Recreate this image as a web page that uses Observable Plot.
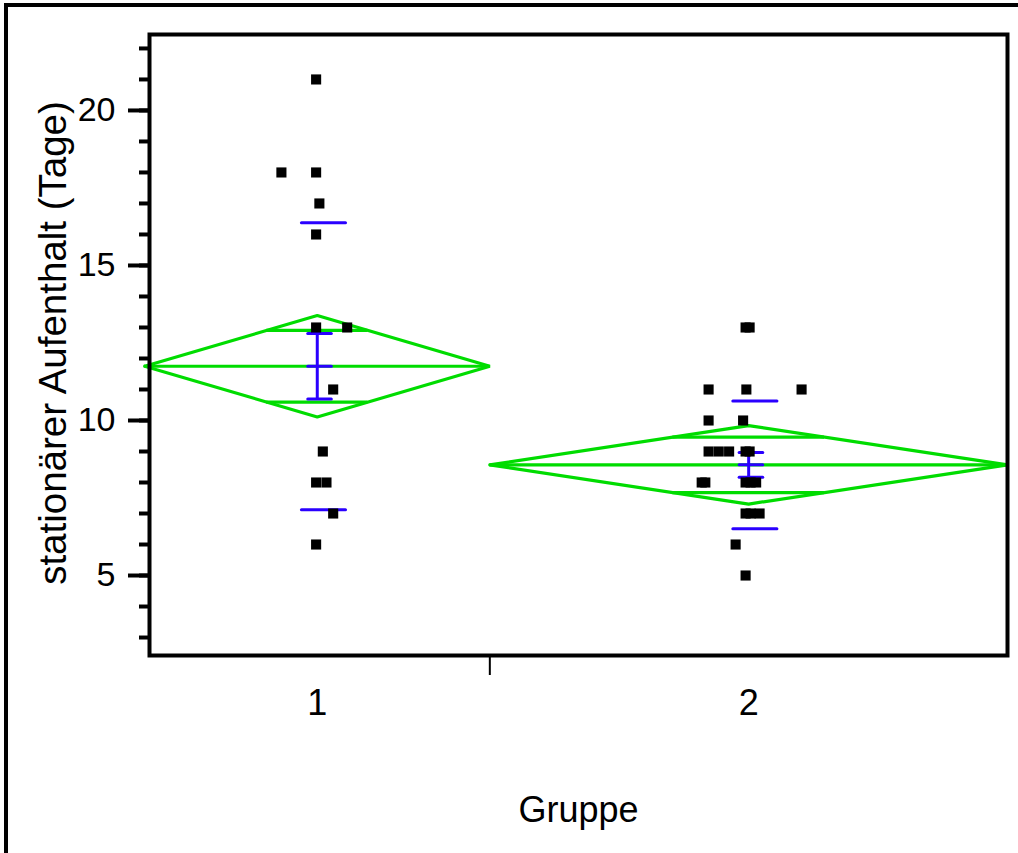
<!DOCTYPE html>
<html><head><meta charset="utf-8">
<script src="https://cdn.jsdelivr.net/npm/d3@7"></script>
<script src="https://cdn.jsdelivr.net/npm/@observablehq/plot@0.6"></script>
<style>
body{margin:0;background:#fff;}
#wrap{position:relative;width:1018px;height:853px;overflow:hidden;background:#fff;}
#border{position:absolute;left:4px;top:3px;width:2000px;height:2000px;border-left:4px solid #000;border-top:4px solid #000;}
#chart{position:absolute;left:0;top:0;}
</style></head><body>
<div id="wrap"><div id="border"></div><div id="chart"></div></div>
<script>
// ---- data ----
const groups = ["1", "2"];
const groupSizes = [18, 27];
const means = [11.75, 8.57];
const ci95 = [1.635, 1.265];
const stdErr = [1.055, 0.40];
const stdDev = [4.625, 2.06];
const yTicks = [5, 10, 15, 20];
const yMinorTicks = d3.range(3, 23);

// observations: group index, value, horizontal jitter (x units)
const pointGroup = [0,0,0,0,0,0,0,0,0,0,0,0,0,
  1,1,1,1,1,1,1,1,1,1,1,1,1,1,1,1,1,1,1,1,1,1];
const pointValue = [21,18,18,17,16,13,13,11,9,8,8,7,6,
  13,13,11,11,11,10,10,9,9,9,9,9,8,8,8,8,8,7,7,7,6,5];
const pointJitter = [-0.06,-1.87,-0.06,0.11,-0.06,-0.06,1.56,0.83,0.29,-0.06,0.48,0.83,-0.06,
  -0.16,0.05,-2.09,-0.12,2.76,-2.09,-0.29,-2.09,-1.56,-1.02,-0.16,0.05,-2.45,-2.26,-0.16,0.10,0.39,-0.16,0.10,0.57,-0.68,-0.16];

// ---- derived tables ----
const starts = groupSizes.map((n, i) => d3.sum(groupSizes.slice(0, i)));
const ends = groupSizes.map((n, i) => starts[i] + n);
const centers = groupSizes.map((n, i) => starts[i] + n / 2);
const total = d3.sum(groupSizes);

const summary = groups.map((g, i) => ({
  g, i, start: starts[i], end: ends[i], c: centers[i], hw: groupSizes[i] / 2,
  mean: means[i], ci: ci95[i], se: stdErr[i], sd: stdDev[i]
}));

const diamond = summary.flatMap(s => [
  {g: s.g, x: s.start, y: s.mean},
  {g: s.g, x: s.c, y: s.mean + s.ci},
  {g: s.g, x: s.end, y: s.mean},
  {g: s.g, x: s.c, y: s.mean - s.ci},
  {g: s.g, x: s.start, y: s.mean}
]);
const k = 1 - Math.SQRT1_2;
const overlap = summary.flatMap(s => [+1, -1].map(sign => ({
  y: s.mean + sign * s.ci * Math.SQRT1_2, x1: s.c - s.hw * k, x2: s.c + s.hw * k
})));
const sdLines = summary.flatMap(s => [+1, -1].map(sign => ({y: s.mean + sign * s.sd, c: s.c})));
const seCaps = summary.flatMap(s => [-1, 0, 1].map(sign => ({y: s.mean + sign * s.se, c: s.c})));

const points = pointValue.map((v, i) => ({x: centers[pointGroup[i]] + pointJitter[i], y: v}));

const GREEN = "#00dc00", BLUE = "#2a00ff";
const FONT = '"Liberation Sans", Arial, Helvetica, sans-serif';

const chart = Plot.plot({
  width: 1018, height: 853,
  marginLeft: 149, marginRight: 11, marginTop: 34, marginBottom: 198,
  x: {domain: [0.25, total]},
  y: {domain: [2.42, 22.45]},
  style: {fontFamily: FONT, background: "transparent", color: "#000", overflow: "visible"},
  marks: [
    // green means diamonds
    Plot.line(diamond, {x: "x", y: "y", z: "g", stroke: GREEN, strokeWidth: 3.2, strokeLinejoin: "miter"}),
    Plot.ruleY(summary, {y: "mean", x1: "start", x2: "end", stroke: GREEN, strokeWidth: 3.2}),
    Plot.ruleY(overlap, {y: "y", x1: "x1", x2: "x2", stroke: GREEN, strokeWidth: 3.2}),
    // blue std dev lines and std error bars
    Plot.ruleY(sdLines, {y: "y", x1: d => d.c - 0.8, x2: d => d.c + 1.5, stroke: BLUE, strokeWidth: 3, strokeLinecap: "round"}),
    Plot.ruleX(summary, {x: "c", y1: d => d.mean - d.se, y2: d => d.mean + d.se, stroke: BLUE, strokeWidth: 3}),
    Plot.ruleY(seCaps, {y: "y", x1: d => d.c - 0.47, x2: d => d.c + 0.76, stroke: BLUE, strokeWidth: 3, strokeLinecap: "round"}),
    // observations
    Plot.dot(points, {x: "x", y: "y", symbol: "square", r: 5.7, fill: "#000", stroke: null}),
    // axes
    Plot.axisY(yMinorTicks, {tickSize: 10, tickFormat: () => "", strokeWidth: 4, label: null}),
    Plot.axisY(yTicks, {tickSize: 21, tickPadding: 13, fontSize: 34, strokeWidth: 4, label: null}),
    Plot.axisX([ends[0]], {tickSize: 20, tickFormat: () => "", strokeWidth: 2, label: null}),
    Plot.axisX(centers, {tickSize: 0, tickPadding: 34, fontSize: 36, label: null,
      tickFormat: d => groups[centers.indexOf(d)]}),
    Plot.frame({stroke: "#000", strokeWidth: 4}),
    // axis titles
    Plot.text(["Gruppe"], {frameAnchor: "bottom", dy: 155, fontSize: 36, textAnchor: "middle", lineAnchor: "middle"}),
    Plot.text(["stationärer Aufenthalt (Tage)"], {frameAnchor: "left", rotate: -90, dx: -96, dy: -2,
      fontSize: 38.5, textAnchor: "middle", lineAnchor: "middle"})
  ]
});
document.getElementById("chart").appendChild(chart);
</script>
</body></html>
